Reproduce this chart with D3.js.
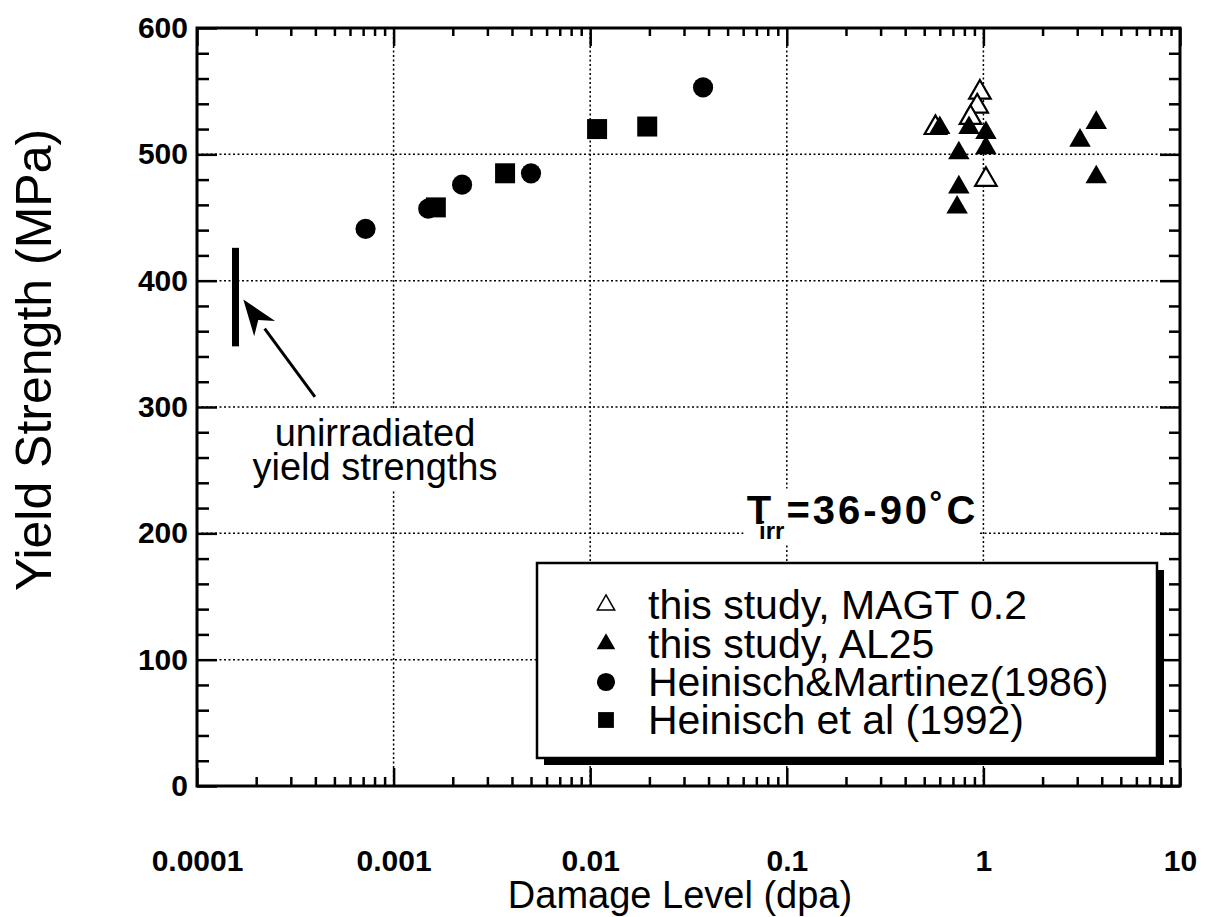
<!DOCTYPE html>
<html><head><meta charset="utf-8">
<script src="https://cdn.jsdelivr.net/npm/d3@7"></script>
<style>
body{margin:0;background:#fff;}
svg{display:block;font-family:"Liberation Sans",Arial,Helvetica,sans-serif;}
</style>
</head><body>
<svg id="c" width="1218" height="917"></svg>
<script>
// ---- data ----
const magtX = [0.96, 0.93, 0.86, 0.57, 1.03];
const magtY = [549, 538, 529, 521, 480];
const al25X = [0.60, 0.845, 1.03, 1.03, 0.75, 0.75, 0.735, 3.1, 3.75, 3.75];
const al25Y = [521, 521, 517, 505, 501, 474, 458, 511, 525, 482];
const hm86X = [0.00072, 0.0015, 0.00223, 0.0050, 0.0375];
const hm86Y = [441, 457, 476, 485, 553];
const h92X = [0.00164, 0.00369, 0.01084, 0.0195];
const h92Y = [458, 485, 520, 522];
const unirrX = [0.000157, 0.000157];
const unirrY = [348, 426];
const arrowX = [0.000398, 0.000172];
const arrowY = [308, 385];
const xTickValues = [0.0001, 0.001, 0.01, 0.1, 1, 10];
const xTickLabels = ["0.0001", "0.001", "0.01", "0.1", "1", "10"];
const yTickValues = [0, 100, 200, 300, 400, 500, 600];
const yTickLabels = ["0", "100", "200", "300", "400", "500", "600"];
const legendLabels = ["this study, MAGT 0.2", "this study, AL25", "Heinisch&Martinez(1986)", "Heinisch et al (1992)"];
const noteLines = ["unirradiated", "yield strengths"];
const noteX = 0.000804, noteY = [269, 242];
const tempX = 0.0625, tempY = 207;

// ---- layout ----
const L = 197, R = 1180, T = 28, B = 786;
const svg = d3.select("#c");
const x = d3.scaleLog().domain([0.0001, 10]).range([L, R]);
const y = d3.scaleLinear().domain([0, 600]).range([B, T]);

// gridlines
const grid = svg.append("g").attr("stroke", "#000").attr("stroke-width", 1.5).attr("stroke-dasharray", "2,2.5");
yTickValues.filter(v => v > 0 && v < 600).forEach(v => {
  grid.append("line").attr("x1", L).attr("x2", R).attr("y1", y(v)).attr("y2", y(v));
});
xTickValues.filter(v => v > 0.0001 && v < 10).forEach(v => {
  grid.append("line").attr("y1", T).attr("y2", B).attr("x1", x(v)).attr("x2", x(v));
});

// minor tick values
const xMinor = [];
for (let e = -4; e < 1; e++) for (let k = 2; k <= 9; k++) xMinor.push(k * Math.pow(10, e));
const yMinor = d3.range(0, 601, 20).filter(v => v % 100 !== 0);

function styleAxis(g) {
  g.select(".domain").remove();
  g.selectAll(".tick line").attr("stroke", "#000").attr("stroke-width", 2.5);
}
const lblFont = 30;
// left
svg.append("g").attr("transform", `translate(${L},0)`)
  .call(d3.axisLeft(y).tickValues(yTickValues).tickSize(-20).tickPadding(9)
    .tickFormat((d, i) => yTickLabels[i]))
  .call(styleAxis)
  .call(g => g.selectAll("text").attr("font-size", lblFont).attr("font-weight", "bold")
    .attr("fill", "#000").attr("font-family", "Liberation Sans, Arial, sans-serif"));
svg.append("g").attr("transform", `translate(${L},0)`)
  .call(d3.axisLeft(y).tickValues(yMinor).tickSize(-12).tickFormat(""))
  .call(styleAxis);
// right
svg.append("g").attr("transform", `translate(${R},0)`)
  .call(d3.axisRight(y).tickValues(yTickValues).tickSize(-20).tickFormat(""))
  .call(styleAxis);
svg.append("g").attr("transform", `translate(${R},0)`)
  .call(d3.axisRight(y).tickValues(yMinor).tickSize(-11).tickFormat(""))
  .call(styleAxis);
// bottom
svg.append("g").attr("transform", `translate(0,${B})`)
  .call(d3.axisBottom(x).tickValues(xTickValues).tickSize(-18)
    .tickFormat((d, i) => xTickLabels[i]))
  .call(styleAxis)
  .call(g => g.selectAll("text").attr("y", 74).attr("dy", "0.35em").attr("font-size", lblFont)
    .attr("font-weight", "bold").attr("fill", "#000").attr("font-family", "Liberation Sans, Arial, sans-serif"));
svg.append("g").attr("transform", `translate(0,${B})`)
  .call(d3.axisBottom(x).tickValues(xMinor).tickSize(-9).tickFormat(""))
  .call(styleAxis);
// top
svg.append("g").attr("transform", `translate(0,${T})`)
  .call(d3.axisTop(x).tickValues(xTickValues).tickSize(-18).tickFormat(""))
  .call(styleAxis);
svg.append("g").attr("transform", `translate(0,${T})`)
  .call(d3.axisTop(x).tickValues(xMinor).tickSize(-8).tickFormat(""))
  .call(styleAxis);

// frame
svg.append("rect").attr("x", L).attr("y", T).attr("width", R - L).attr("height", B - T)
  .attr("fill", "none").attr("stroke", "#000").attr("stroke-width", 3);

// axis titles
svg.append("text").attr("x", 680).attr("y", 908).attr("text-anchor", "middle")
  .attr("font-size", 38).text("Damage Level (dpa)");
svg.append("text").attr("transform", "translate(51,360) rotate(-90)")
  .attr("text-anchor", "middle").attr("font-size", 50).text("Yield Strength (MPa)");

// unirradiated bar
svg.append("line").attr("x1", x(unirrX[0])).attr("x2", x(unirrX[1]))
  .attr("y1", y(unirrY[0])).attr("y2", y(unirrY[1])).attr("stroke", "#000").attr("stroke-width", 7);

// arrow
const ax1 = x(arrowX[0]), ay1 = y(arrowY[0]), ax2 = x(arrowX[1]), ay2 = y(arrowY[1]);
const ang = Math.atan2(ay2 - ay1, ax2 - ax1);
const hl = 36, hw = 13;
const bx = ax2 - hl * Math.cos(ang), by = ay2 - hl * Math.sin(ang);
svg.append("line").attr("x1", ax1).attr("y1", ay1).attr("x2", bx).attr("y2", by)
  .attr("stroke", "#000").attr("stroke-width", 3);
svg.append("path").attr("d", `M${ax2},${ay2} L${bx + hw * Math.sin(ang)},${by - hw * Math.cos(ang)} L${ax2 - 0.7*hl*Math.cos(ang)},${ay2 - 0.7*hl*Math.sin(ang)} L${bx - hw * Math.sin(ang)},${by + hw * Math.cos(ang)} Z`)
  .attr("fill", "#000");

// note text with white background
const note = svg.append("g");
const noteTexts = noteLines.map((t, i) => note.append("text").attr("x", x(noteX)).attr("y", y(noteY[i]))
    .attr("text-anchor", "middle").attr("font-size", 38).text(t));
{
  const bbs = noteTexts.map(t => t.node().getBBox());
  const x0 = d3.min(bbs, b => b.x) - 4, x1 = d3.max(bbs, b => b.x + b.width) + 4;
  const y0 = d3.min(bbs, b => b.y) - 2, y1 = d3.max(bbs, b => b.y + b.height) + 2;
  note.insert("rect", "text").attr("x", x0).attr("y", y0).attr("width", x1 - x0).attr("height", y1 - y0).attr("fill", "#fff");
}

// temperature label
const tg = svg.append("g");
const tt = tg.append("text").attr("x", x(tempX)).attr("y", y(tempY)).attr("font-size", 40).attr("font-weight", "bold");
tt.append("tspan").text("T");
tt.append("tspan").attr("font-size", 24).attr("dx", -12).attr("dy", 15).text("irr");
tt.append("tspan").attr("dx", 2).attr("dy", -15).attr("letter-spacing", 3).text("=36-90˚C");
{
  const b = tt.node().getBBox();
  tg.insert("rect", "text").attr("x", b.x - 3).attr("y", b.y).attr("width", b.width + 3).attr("height", b.height)
    .attr("fill", "#fff");
}

// symbols
const tri = (s) => d3.symbol().type(d3.symbolTriangle).size(s)();
const circ = (s) => d3.symbol().type(d3.symbolCircle).size(s)();
const sq = (s) => d3.symbol().type(d3.symbolSquare).size(s)();

const pts = svg.append("g");
hm86X.forEach((v, i) => pts.append("path").attr("d", circ(320))
  .attr("transform", `translate(${x(v)},${y(hm86Y[i])})`).attr("fill", "#000"));
h92X.forEach((v, i) => pts.append("path").attr("d", sq(400))
  .attr("transform", `translate(${x(v)},${y(h92Y[i])})`).attr("fill", "#000"));
magtX.forEach((v, i) => pts.append("path").attr("d", tri(200))
  .attr("transform", `translate(${x(v)},${y(magtY[i])})`).attr("fill", "#fff")
  .attr("stroke", "#000").attr("stroke-width", 2.2));
al25X.forEach((v, i) => pts.append("path").attr("d", tri(200))
  .attr("transform", `translate(${x(v)},${y(al25Y[i])})`).attr("fill", "#000"));

// legend
const lg = svg.append("g");
const lx = 537, ly = 563, lw = 620, lh = 195;
lg.append("rect").attr("x", lx + 7).attr("y", ly + 7).attr("width", lw).attr("height", lh).attr("fill", "#000");
lg.append("rect").attr("x", lx).attr("y", ly).attr("width", lw).attr("height", lh)
  .attr("fill", "#fff").attr("stroke", "#000").attr("stroke-width", 2.5);
const rowY = [605, 644, 682, 720];
const symFns = [
  g => g.attr("d", tri(130)).attr("fill", "#fff").attr("stroke", "#000").attr("stroke-width", 1.5),
  g => g.attr("d", tri(150)).attr("fill", "#000"),
  g => g.attr("d", circ(260)).attr("fill", "#000"),
  g => g.attr("d", sq(250)).attr("fill", "#000")
];
legendLabels.forEach((t, i) => {
  lg.append("path").attr("transform", `translate(606,${rowY[i]})`).call(symFns[i]);
  lg.append("text").attr("x", 648).attr("y", rowY[i]).attr("dy", "0.35em")
    .attr("font-size", 41).text(t);
});
</script>
</body></html>
